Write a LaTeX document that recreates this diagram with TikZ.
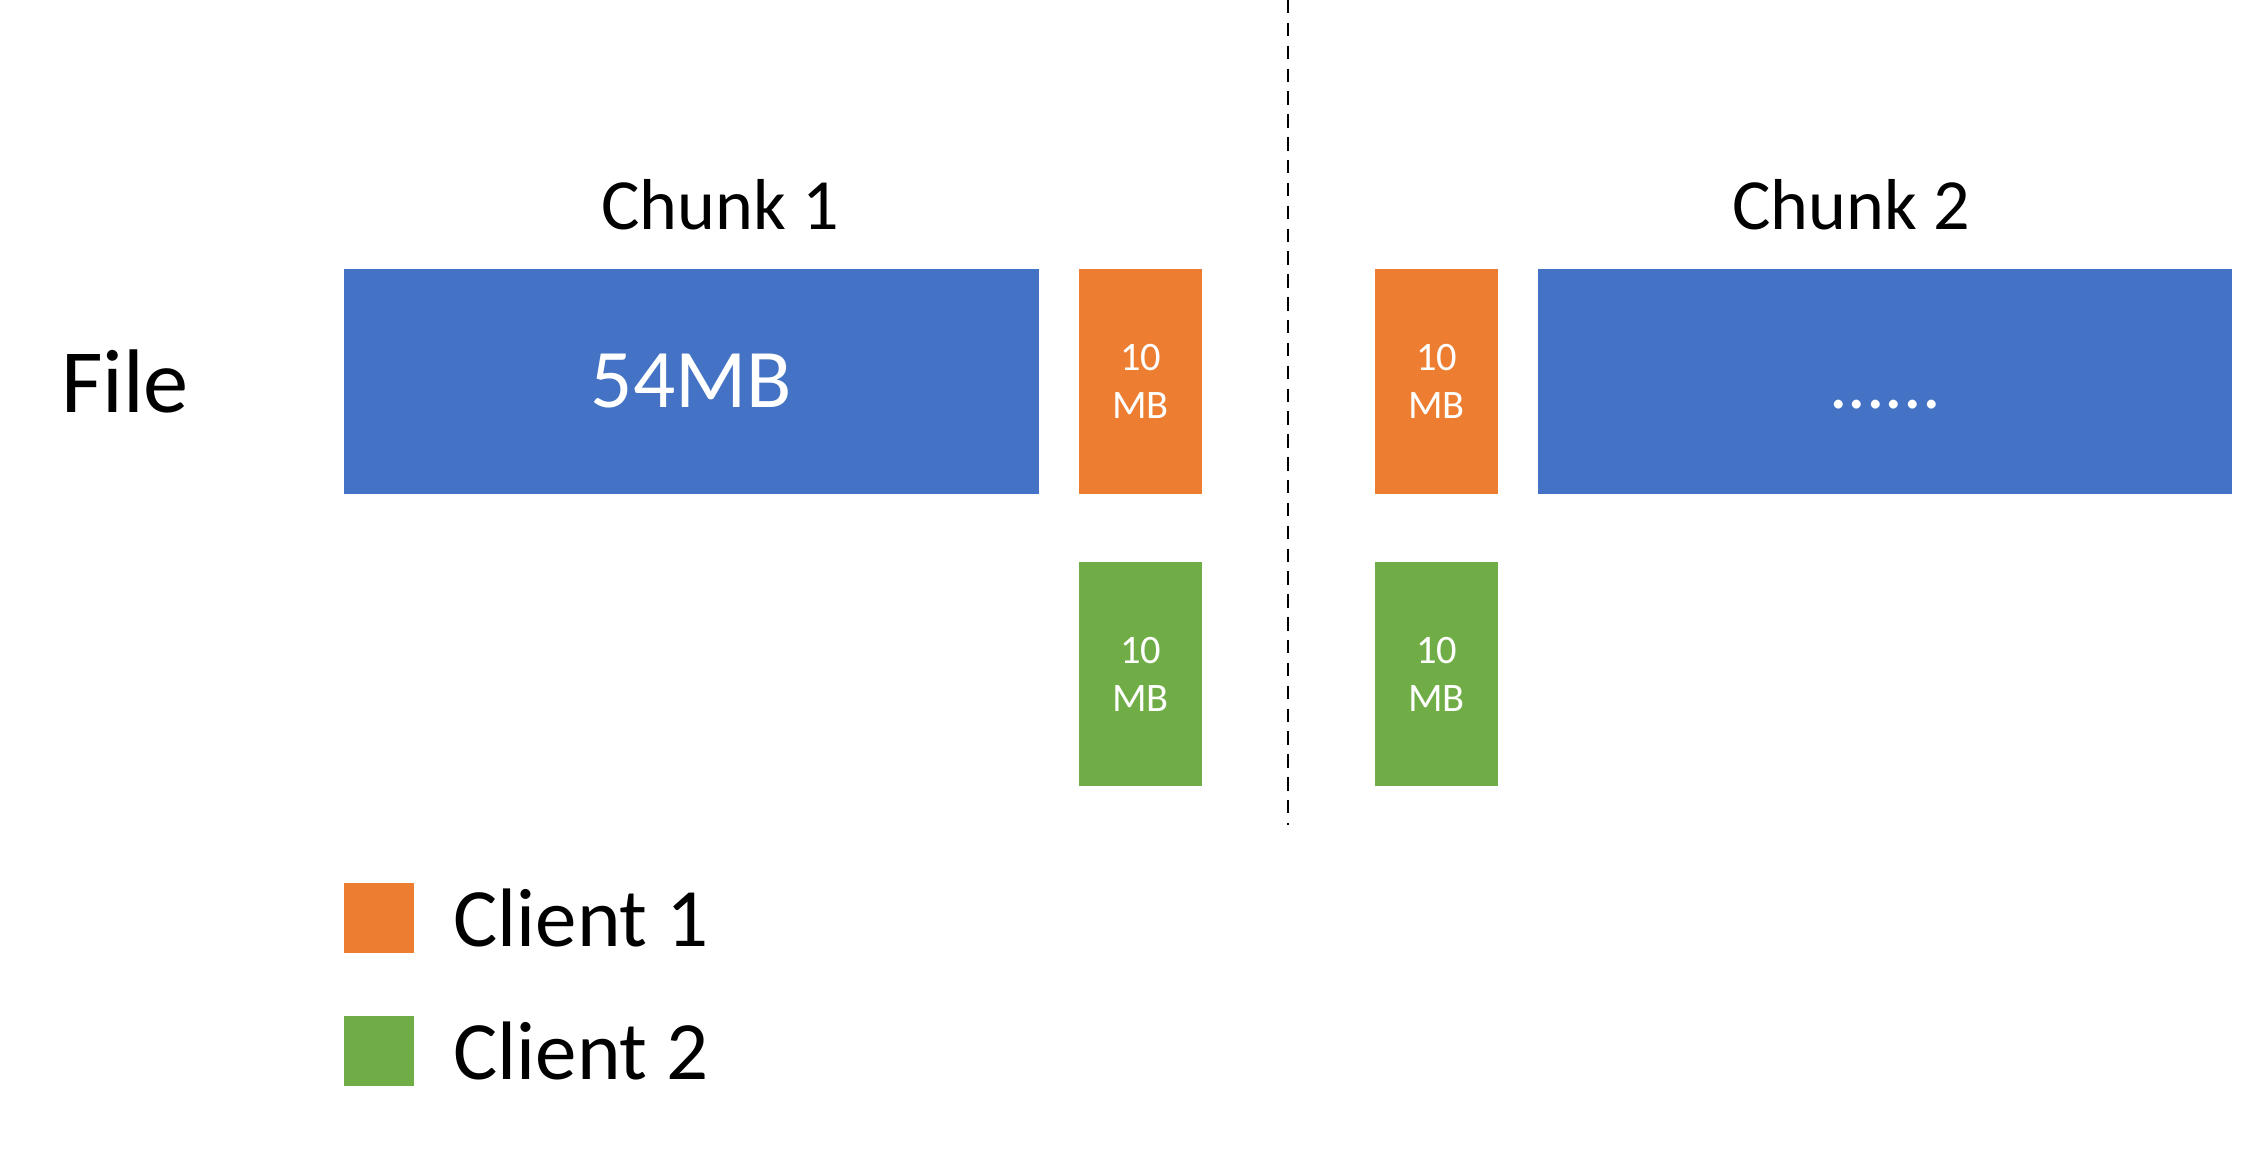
\documentclass[tikz,border=0pt]{standalone}
\usepackage{fontspec}
\setmainfont{Carlito}
\usepackage{xcolor}
\usepackage{tikz}
\usetikzlibrary{positioning}

\definecolor{fileblue}{HTML}{4472C4}
\definecolor{clientorange}{HTML}{ED7D31}
\definecolor{clientgreen}{HTML}{70AD47}

\tikzset{
    bigblock/.style={fill=fileblue, minimum width=6.95cm, minimum height=2.25cm, inner sep=0pt, text=white},
    smallblock/.style={minimum width=1.23cm, minimum height=2.25cm, inner sep=0pt, text=white, align=center, font=\fontsize{11.5}{13.7}\selectfont},
    legendbox/.style={minimum size=0.7cm, inner sep=0pt},
    legendtext/.style={inner sep=0pt, anchor=west, font=\fontsize{23.6}{28}\selectfont}
}

\begin{document}
\begin{tikzpicture}[x=0.01cm, y=-0.01cm]
        \useasboundingbox (0,0) rectangle (2241,1150);

        % Row title
        \node[inner sep=0pt, font=\fontsize{25.7}{30}\selectfont] (filetitle) at (125,381.5) {File};

        % Chunk titles
        \node[inner sep=0pt, font=\fontsize{20.5}{24}\selectfont] (chunkA) at (720,205) {Chunk 1};
        \node[inner sep=0pt, font=\fontsize{20.5}{24}\selectfont] (chunkB) at (1851,205) {Chunk 2};

        % Chunk 1
        \node[bigblock, font=\fontsize{23.7}{28}\selectfont] (blueA) at (691.5,381.5) {54MB};
        \node[smallblock, fill=clientorange] (orangeA) at (1140.5,381.5) {10\\MB};
        \node[smallblock, fill=clientgreen, minimum height=2.24cm] (greenA) at (1140.5,674) {10\\MB};

        % Divider
        \coordinate (divtop) at (1288,0);
        \coordinate (divbot) at (1288,825);
        \draw[line width=0.75pt, dash pattern=on 3.8pt off 2.7pt] (divtop) -- (divbot);

        % Chunk 2
        \node[smallblock, fill=clientorange] (orangeB) at (1436.5,381.5) {10\\MB};
        \node[smallblock, fill=clientgreen, minimum height=2.24cm] (greenB) at (1436.5,674) {10\\MB};
        \node[bigblock, minimum width=6.94cm, font=\fontsize{21}{25}\selectfont, text height=16pt, text depth=0.6pt] (blueB) at (1885,381.5) {......};

        % Legend
        \node[legendbox, fill=clientorange] (keyA) at (379,917.5) {};
        \node[legendtext, right=0.38cm of keyA] (keyAtext) {Client 1};
        \node[legendbox, fill=clientgreen] (keyB) at (379,1050.5) {};
        \node[legendtext, right=0.38cm of keyB] (keyBtext) {Client 2};

    \end{tikzpicture}
\end{document}
